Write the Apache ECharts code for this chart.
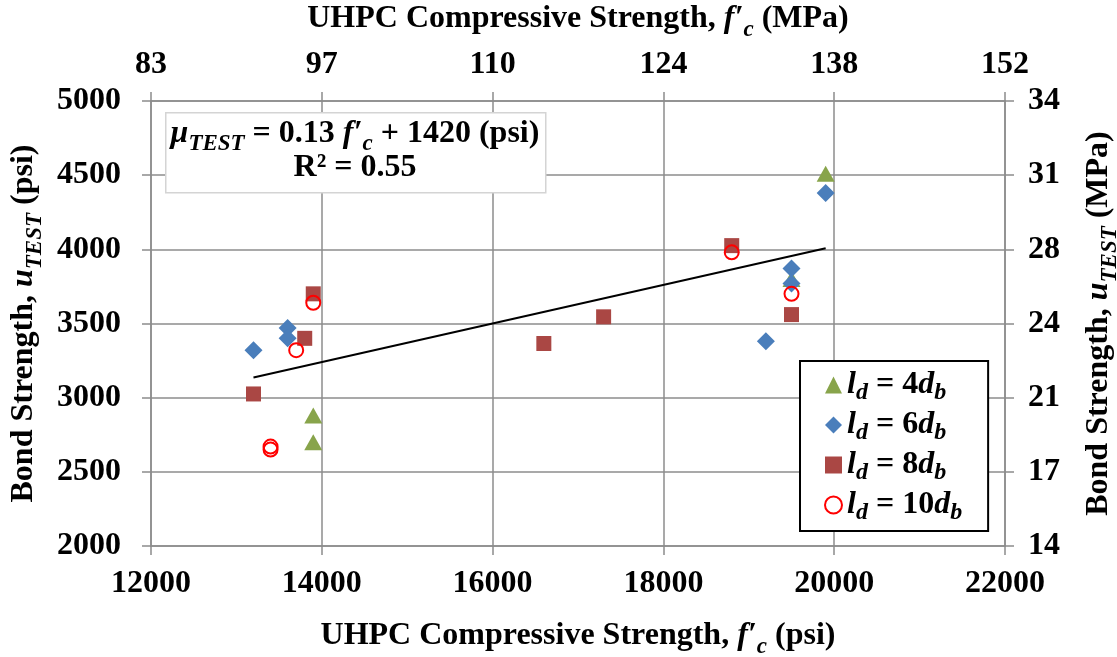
<!DOCTYPE html>
<html>
<head>
<meta charset="utf-8">
<script src="https://cdn.jsdelivr.net/npm/echarts@6/dist/echarts.min.js"></script>
<style>
  html, body { margin: 0; padding: 0; background: #fff; }
  #chart { width: 1117px; height: 657px; }
</style>
</head>
<body>
<div id="chart"></div>
<script>
// Bond strength (psi) against UHPC compressive strength f'c (psi), by embedment length
const ld4 = [[13900, 2880], [13900, 2700], [19500, 3800], [19900, 4510]];
const ld6 = [[13200, 3320], [13600, 3470], [13600, 3400], [19200, 3380], [19500, 3870], [19500, 3770], [19900, 4380]];
const ld8 = [[13200, 3025], [13800, 3400], [13900, 3700], [16600, 3365], [17300, 3545], [18800, 4025], [19500, 3560]];
const ld10 = [[13400, 2670], [13400, 2650], [13700, 3320], [13900, 3640], [18800, 3980], [19500, 3700]];

// Linear trend: u = 0.13 f'c + 1420, over the tested range of f'c
const trendSlope = 0.13;
const trendIntercept = 1420;
const trendRange = [13200, 19900];
const trendR2 = '0.55';

// Embedment multiples shown in the legend (l_d = n d_b)
const legendMultiples = ['4', '6', '8', '10'];

// Secondary (SI) tick labels
const topTickLabels = ['83', '97', '110', '124', '138', '152'];
const rightTickLabels = ['14', '17', '21', '24', '28', '31', '34'];

const FONT = 'Liberation Serif';
const AXIS_GREY = '#8c8c8c';
const FS = 32;

const base = { fontFamily: FONT, fontWeight: 'bold', fontSize: FS, color: '#000', lineHeight: 36 };
const rich = {
  b: Object.assign({}, base),
  i: Object.assign({}, base, { fontStyle: 'italic' }),
  s: Object.assign({}, base, { fontStyle: 'italic', fontSize: 23, lineHeight: 20, padding: [22, 0, 0, 0] })
};
const legendRich = {
  b: Object.assign({}, base, { lineHeight: 32 }),
  i: Object.assign({}, base, { fontStyle: 'italic', lineHeight: 32 }),
  s: Object.assign({}, base, { fontStyle: 'italic', fontSize: 24, lineHeight: 18, padding: [16, 0, 0, 0] })
};

const trendData = trendRange.map(x => [x, trendSlope * x + trendIntercept]);

const axisLineStyle = { color: AXIS_GREY, width: 1.5 };
const labelStyle = { fontFamily: FONT, fontWeight: 'bold', fontSize: FS, color: '#000' };

const chart = echarts.init(document.getElementById('chart'), null, { renderer: 'canvas' });

const seriesNames = legendMultiples.map(n => 'ld' + n);

chart.setOption({
  animation: false,
  backgroundColor: '#fff',
  grid: { left: 151, right: 112, top: 101, bottom: 111, containLabel: false, outerBoundsMode: 'none' },
  xAxis: [
    {
      type: 'value', position: 'bottom', min: 12000, max: 22000, interval: 2000,
      axisLine: { show: true, lineStyle: axisLineStyle },
      axisTick: { show: true, length: 9, lineStyle: axisLineStyle },
      splitLine: { show: true, lineStyle: axisLineStyle },
      axisLabel: Object.assign({ margin: 22, formatter: v => String(v) }, labelStyle),
      name: "{b|UHPC Compressive Strength, }{i|f′}{s|c}{b| (psi)}",
      nameLocation: 'middle', nameGap: 72,
      nameTextStyle: { rich: rich }
    },
    {
      type: 'value', position: 'top', min: 12000, max: 22000, interval: 2000,
      axisLine: { show: true, lineStyle: axisLineStyle },
      axisTick: { show: true, length: 9, lineStyle: axisLineStyle },
      splitLine: { show: false },
      axisLabel: Object.assign({
        margin: 20,
        formatter: v => topTickLabels[Math.round((v - 12000) / 2000)]
      }, labelStyle),
      name: "{b|UHPC Compressive Strength, }{i|f′}{s|c}{b| (MPa)}",
      nameLocation: 'middle', nameGap: 64,
      nameTextStyle: { rich: rich }
    }
  ],
  yAxis: [
    {
      type: 'value', position: 'left', min: 2000, max: 5000, interval: 500,
      axisLine: { show: true, lineStyle: axisLineStyle },
      axisTick: { show: true, length: 9, lineStyle: axisLineStyle },
      splitLine: { show: true, lineStyle: axisLineStyle },
      axisLabel: Object.assign({ margin: 30, formatter: v => String(v) }, labelStyle),
      name: "{b|Bond Strength, }{i|u}{s|TEST}{b| (psi)}",
      nameLocation: 'middle', nameGap: 100, nameRotate: 90,
      nameTextStyle: { rich: rich }
    },
    {
      type: 'value', position: 'right', min: 2000, max: 5000, interval: 500,
      axisLine: { show: true, lineStyle: axisLineStyle },
      axisTick: { show: true, length: 9, lineStyle: axisLineStyle },
      splitLine: { show: false },
      axisLabel: Object.assign({
        margin: 23,
        formatter: v => rightTickLabels[Math.round((v - 2000) / 500)]
      }, labelStyle),
      name: "{b|Bond Strength, }{i|u}{s|TEST}{b| (MPa)}",
      nameLocation: 'middle', nameGap: 76, nameRotate: 90,
      nameTextStyle: { rich: rich }
    }
  ],
  legend: {
    orient: 'vertical',
    left: 800, top: 361,
    data: seriesNames,
    backgroundColor: '#fff',
    borderColor: '#000', borderWidth: 2, borderRadius: 0,
    padding: [4, 26, 6, 24],
    itemGap: 0, itemWidth: 17, itemHeight: 17,
    formatter: name => '{i|l}{s|d}{b| = ' + name.slice(2) + '}{i|d}{s|b}',
    textStyle: { rich: legendRich }
  },
  graphic: [
    {
      type: 'rect', left: 165, top: 112, z: 10,
      shape: { width: 380, height: 80 },
      style: { fill: '#fff', stroke: '#d4d4d4', lineWidth: 1.5 }
    },
    {
      type: 'text', z: 11,
      x: 355, y: 117,
      style: {
        text: '{i|μ}{s|TEST}{b| = 0.13 }{i|f′}{s|c}{b| + 1420 (psi)}\n{b|R² = ' + trendR2 + '}',
        align: 'center',
        verticalAlign: 'top',
        rich: {
          b: Object.assign({}, base, { lineHeight: 34 }),
          i: Object.assign({}, base, { fontStyle: 'italic', lineHeight: 34 }),
          s: Object.assign({}, base, { fontStyle: 'italic', fontSize: 23, lineHeight: 16, padding: [20, 0, 0, 0] })
        }
      }
    }
  ],
  series: [
    {
      name: seriesNames[0], type: 'scatter', data: ld4,
      symbol: 'triangle', symbolSize: [18, 16],
      itemStyle: { color: '#88A44B', opacity: 1 }
    },
    {
      name: seriesNames[1], type: 'scatter', data: ld6,
      symbol: 'diamond', symbolSize: [18, 18],
      itemStyle: { color: '#4A7EBB', opacity: 1 }
    },
    {
      name: seriesNames[2], type: 'scatter', data: ld8,
      symbol: 'rect', symbolSize: [15, 15],
      itemStyle: { color: '#AA4744', opacity: 1 }
    },
    {
      name: seriesNames[3], type: 'scatter', data: ld10,
      symbol: 'circle', symbolSize: 14,
      itemStyle: { color: 'rgba(255,255,255,0)', borderColor: '#FF0000', borderWidth: 2, opacity: 1 }
    },
    {
      name: 'trend', type: 'line', data: trendData,
      symbol: 'none', lineStyle: { color: '#000', width: 2 }, z: 5,
      silent: true
    }
  ]
});
</script>
</body>
</html>
